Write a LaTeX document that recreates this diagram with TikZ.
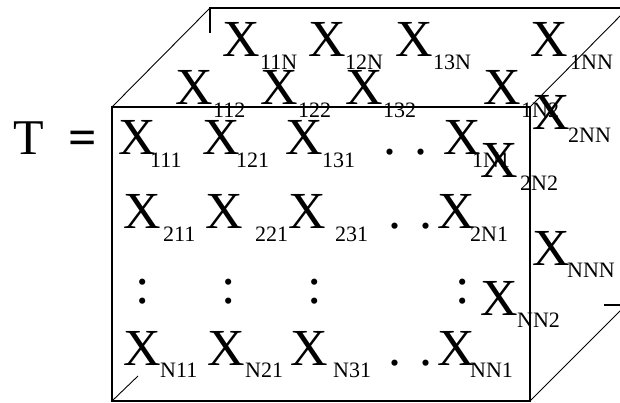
\documentclass[tikz,border=0pt]{standalone}
\usepackage{fontspec}
\newfontfamily\tnr{Liberation Serif}
\newcommand{\bigfont}{\tnr\fontsize{52}{52}\selectfont}
\newcommand{\subfont}{\tnr\fontsize{22}{22}\selectfont}
\newcommand{\xel}[2]{\makebox[#1pt][l]{X}\raisebox{-12.5pt}{\subfont #2}}

\begin{document}
\begin{tikzpicture}[x=1pt,y=-1pt,
  elem/.style={anchor=base west,inner sep=0pt,font=\bigfont},
  colon/.style={anchor=base,inner sep=0pt,font=\bigfont},
  edge/.style={line width=1.5pt},
  diag/.style={line width=0.9pt}]
\useasboundingbox (0,0) rectangle (620,403);
\clip (0,0) rectangle (620,403);
% cube
\draw[edge] (112,107) rectangle (530,401);
\draw[edge] (210,33) -- (210,8) -- (640,8);
\draw[diag] (112,107) -- (210,8);
\draw[diag] (530,107) -- (628,8);
\draw[diag] (530,401) -- (628,303);
\draw[diag] (112,401) -- (138,376);
\draw[edge] (604,305) -- (622,305);
% T =
\node[elem,font=\tnr\fontsize{50}{50}\selectfont] (T) at (13,155) {T};
\node[elem,font=\tnr\bfseries\fontsize{50}{50}\selectfont] (eq) at (68,155) {=};
% back layer
\node[elem] (x11N) at (222,57) {\xel{38}{11N}};
\node[elem] (x12N) at (308,57) {\xel{37}{12N}};
\node[elem] (x13N) at (395,57) {\xel{38}{13N}};
\node[elem] (x1NN) at (530,57) {\xel{40}{1NN}};
\node[elem] (x2NN) at (532,130) {\xel{36}{2NN}};
\node[elem] (xNNN) at (532,265) {\xel{35}{NNN}};
% second layer
\node[elem] (x112) at (175,105) {\xel{38}{112}};
\node[elem] (x122) at (260,105) {\xel{38}{122}};
\node[elem] (x132) at (345,105) {\xel{38}{132}};
\node[elem] (x1N2) at (483,105) {\xel{38}{1N2}};
\node[elem] (x2N2) at (480,178) {\xel{40}{2N2}};
\node[elem] (xNN2) at (480,315) {\xel{37}{NN2}};
% front face
\node[elem] (x111) at (118,155) {\xel{32}{111}};
\node[elem] (x121) at (202,155) {\xel{34}{121}};
\node[elem] (x131) at (285,155) {\xel{37}{131}};
\node[elem] (dots1) at (383.5,155) {. .};
\node[elem] (x1N1) at (443,155) {\xel{29}{1N1}};
\node[elem] (x211) at (123,229) {\xel{40}{211}};
\node[elem] (x221) at (205,229) {\xel{50}{221}};
\node[elem] (x231) at (288,229) {\xel{47}{231}};
\node[elem] (dots2) at (388.5,229) {. .};
\node[elem] (x2N1) at (437,229) {\xel{33}{2N1}};
\node[colon] (c1) at (143,303) {:};
\node[colon] (c2) at (229,303) {:};
\node[colon] (c3) at (315,303) {:};
\node[colon] (c4) at (463,303) {:};
\node[elem] (xN11) at (123,365) {\xel{37}{N11}};
\node[elem] (xN21) at (207,365) {\xel{38}{N21}};
\node[elem] (xN31) at (290,365) {\xel{43}{N31}};
\node[elem] (dots4) at (388.5,365) {. .};
\node[elem] (xNN1) at (437,365) {\xel{33}{NN1}};
\end{tikzpicture}
\end{document}
